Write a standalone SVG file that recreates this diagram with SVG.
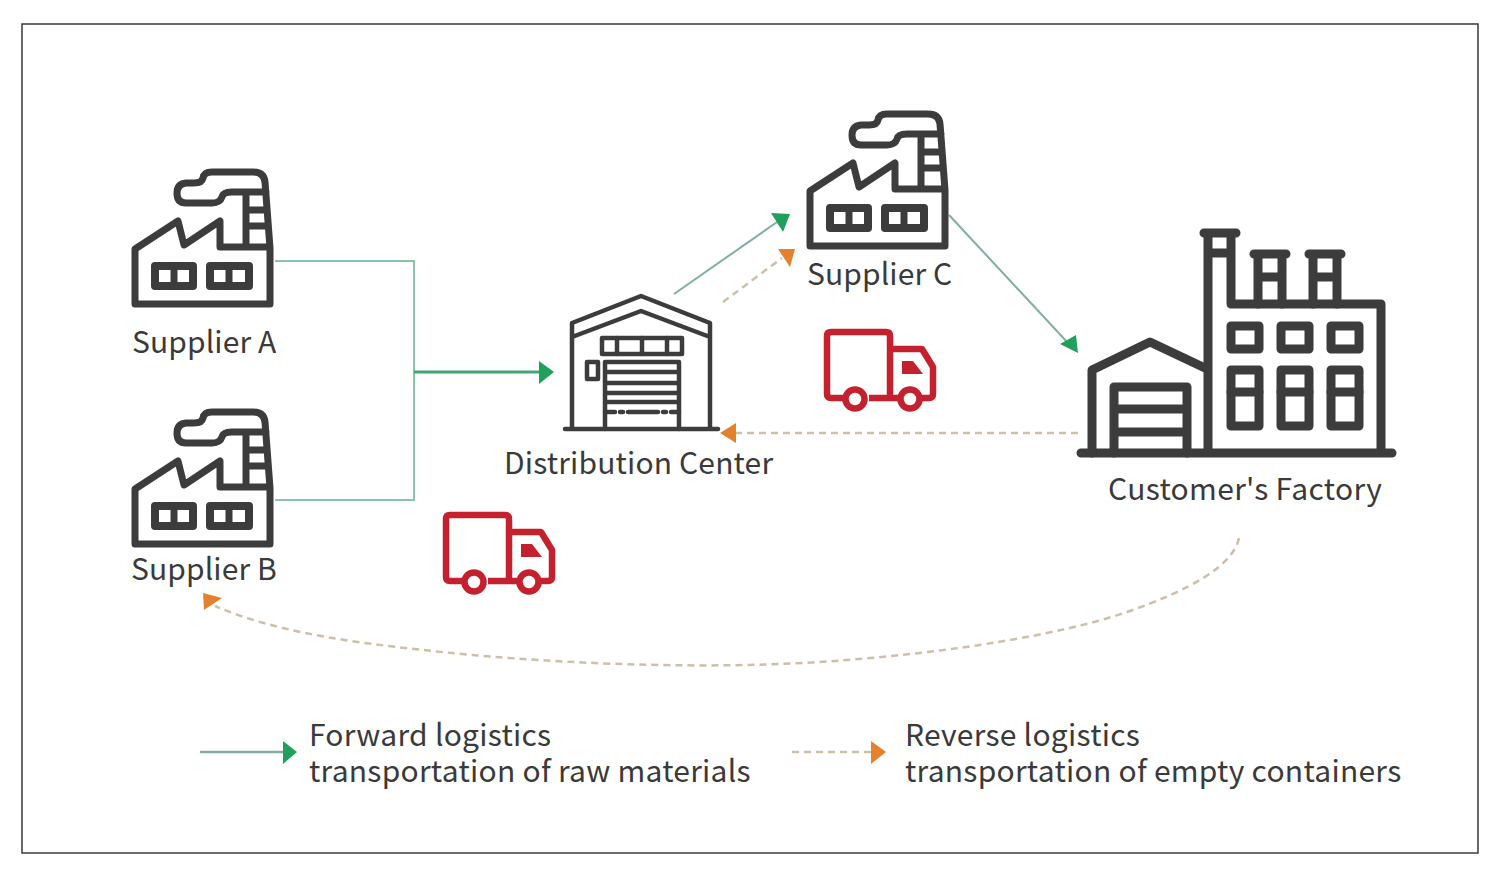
<svg xmlns="http://www.w3.org/2000/svg" width="1500" height="877" viewBox="0 0 1500 877">
<style>
text{font-family:"Noto Sans CJK SC","Noto Sans",sans-serif;font-size:30px;fill:#3a3a3a;letter-spacing:.26px}
.lb{letter-spacing:.1px}
.ic{fill:none;stroke:#3c3c3c;stroke-linejoin:round;stroke-linecap:round}
.tr{fill:none;stroke:#c4202e;stroke-width:6.5;stroke-linejoin:round}
.g{fill:none;stroke:#8cc4ab;stroke-width:2}
.g3{fill:none;stroke:#7fb09d;stroke-width:2}
.g2{fill:none;stroke:#3fa873;stroke-width:3}
.g4{fill:none;stroke:#7fae9e;stroke-width:2.5}
.d{fill:none;stroke:#cdbfa8;stroke-width:2.5;stroke-dasharray:7 5}
.gh{fill:#21a05c}.oh{fill:#e5812e}
</style>
<defs>
<g id="factory" class="ic" stroke-width="7">
<path d="M135,304H270V248L265,182Q264,172 253,172H212Q204,172 203,178Q202,183 194,183H186Q177,184 177,193Q177,203 186,203H212Q220,203 222,197Q223,192 232,192H266M135,304V249L178,221L184,245L220,221V247H270M246,192V247M246,210H267M246,226H268"/>
<rect x="155" y="266" width="38" height="20" stroke-width="8"/><path d="M174,266V286"/>
<rect x="210" y="266" width="39" height="20" stroke-width="8"/><path d="M229,266V286"/>
</g>
<g id="truck">
<path class="tr" d="M846,398H831Q827,398 827,394V336Q827,332 831,332H886Q890,332 890,336V398H869M890,349H922L933,367V394Q933,398 929,398H922M890,398H898"/>
<circle class="tr" cx="855" cy="399" r="9.5"/><circle class="tr" cx="910" cy="399" r="9.5"/>
<path d="M902,361H913L923,374H902Z" fill="#c4202e"/>
</g>
</defs>
<rect x="22" y="24" width="1456" height="829" fill="#fff" stroke="#3a3a3a" stroke-width="1.5"/>
<g id="connectors">
<path class="g" d="M275,261H414V500H275"/>
<path class="g2" d="M414,372H540"/><path class="gh" d="M539,361L554,372L539,384Z"/>
<path class="g3" d="M674,294L780,220"/><path class="gh" d="M771,213L790,214L783,232Z"/>
<path class="d" d="M723,302L782,258"/><path class="oh" d="M778,249L795,249L790,267Z"/>
<path class="g3" d="M949,215L1068,343"/><path class="gh" d="M1060,344L1076,335L1078,353Z"/>
<path class="d" d="M1078,433H735"/><path class="oh" d="M720,433L736,423V443Z"/>
<path class="d" d="M1239,538C1233,566 1190,590 1127,612C1060,635 950,652 847,660C700,672 530,662 423,650C350,642 275,632 215,606"/><path class="oh" d="M203,593L222,598L204,610Z"/>
<path class="g4" d="M200,752H285"/><path class="gh" d="M283,741L297,752L283,764Z"/>
<path class="d" d="M792,752H872"/><path class="oh" d="M871,741L886,752L871,764Z"/>
</g>
<g id="supplier-a"><use href="#factory"/><text class="lb" x="132" y="353">Supplier A</text></g>
<g id="supplier-b"><use href="#factory" y="240"/><text class="lb" x="131" y="580">Supplier B</text></g>
<g id="supplier-c"><use href="#factory" x="675" y="-58"/><text class="lb" x="807" y="285">Supplier C</text></g>
<g id="distribution-center">
<g class="ic" stroke-width="4.5">
<path d="M565,429H718M572,429V323L641,296L710,323V429M572,337L641,311L710,337"/>
<rect x="602" y="338" width="80" height="16"/><path d="M617,338V354M642,338V354M667,338V354"/>
<rect x="587" y="362" width="11" height="17"/>
<path d="M605,429V362H679V429M605,372H679M605,383H679M605,393H679M605,402H679"/>
<path d="M605,412H679" stroke-dasharray="10 5 3 5 30 5 3 5"/>
</g>
<text class="lb" x="504" y="474" style="letter-spacing:.16px">Distribution Center</text></g>
<g id="customers-factory">
<g class="ic" stroke-width="9">
<path d="M1081,453H1392M1208,453V233M1204,233H1236M1231,233V304H1381V453M1208,253H1231"/>
<path d="M1254,254H1286M1258,254V304M1282,254V304M1258,277H1282M1309,254H1341M1313,254V304M1337,254V304M1313,277H1337"/>
<rect x="1231" y="326" width="28" height="23"/><rect x="1281" y="326" width="28" height="23"/><rect x="1331" y="326" width="28" height="23"/>
<rect x="1231" y="370" width="28" height="56"/><rect x="1281" y="370" width="28" height="56"/><rect x="1331" y="370" width="28" height="56"/>
<path d="M1231,392H1259M1281,392H1309M1331,392H1359"/>
<path d="M1092,453V370L1150,342L1205,368"/>
<path d="M1114,453V387H1187V453M1114,409H1187M1114,432H1187"/>
</g>
<text x="1108" y="500" style="letter-spacing:.33px">Customer's Factory</text></g>
<g id="truck-1"><use href="#truck"/></g>
<g id="truck-2"><use href="#truck" x="-381" y="183"/></g>
<g id="legend">
<text x="309" y="746">Forward logistics</text>
<text x="309" y="782">transportation of raw materials</text>
<text x="905" y="746">Reverse logistics</text>
<text x="905" y="782">transportation of empty containers</text>
</g>
</svg>
